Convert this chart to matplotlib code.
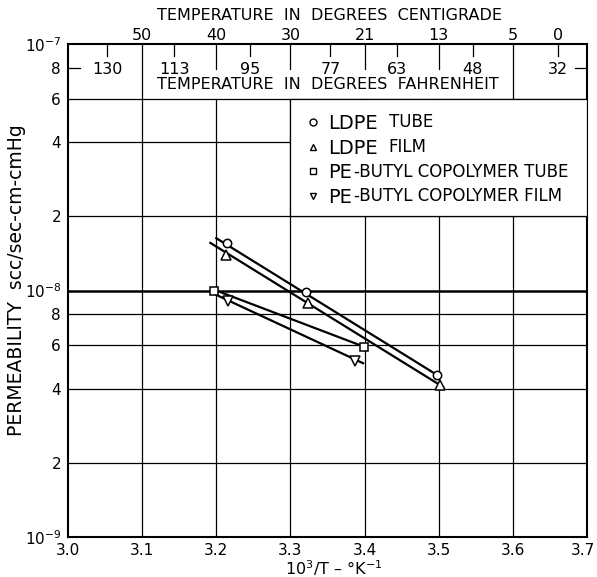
import matplotlib.pyplot as plt
import matplotlib.transforms as mtransforms
from matplotlib.lines import Line2D
from matplotlib.patches import Rectangle

# Measured points, x = 10^3/T (1/K), y = permeability (scc/sec-cm-cmHg)
ldpe_tube_x = [3.214, 3.321, 3.498]
ldpe_tube_y = [1.56e-8, 9.9e-9, 4.55e-9]
ldpe_film_x = [3.213, 3.324, 3.502]
ldpe_film_y = [1.39e-8, 8.9e-9, 4.15e-9]
pb_tube_x = [3.197, 3.399]
pb_tube_y = [1.0e-8, 5.9e-9]
pb_film_x = [3.216, 3.387]
pb_film_y = [9.1e-9, 5.2e-9]

# Straight lines drawn through each set (end points)
ldpe_tube_fit_x = [3.200, 3.500]
ldpe_tube_fit_y = [1.63e-8, 4.5e-9]
ldpe_film_fit_x = [3.192, 3.506]
ldpe_film_fit_y = [1.56e-8, 4.06e-9]
pb_tube_fit_x = [3.196, 3.397]
pb_tube_fit_y = [1.01e-8, 5.95e-9]
pb_film_fit_x = [3.200, 3.398]
pb_film_fit_y = [9.6e-9, 5.07e-9]

# Axis ticks
x_ticks = [3.0, 3.1, 3.2, 3.3, 3.4, 3.5, 3.6, 3.7]
y_ticks = [1e-9, 2e-9, 4e-9, 6e-9, 8e-9, 1e-8, 2e-8, 4e-8, 6e-8, 8e-8, 1e-7]
y_tick_labels = ['10$^{-9}$', '2', '4', '6', '8', '10$^{-8}$', '2', '4', '6', '8', '10$^{-7}$']

# Temperature scales
celsius_pos = [3.1, 3.2, 3.3, 3.4, 3.5, 3.6, 3.661]
celsius_labels = ['50', '40', '30', '21', '13', '5', '0']
fahrenheit = [130, 113, 95, 77, 63, 48, 32]

legend_big = ['LDPE', 'LDPE', 'PE', 'PE']
legend_small = ['TUBE', 'FILM', '-BUTYL COPOLYMER TUBE', '-BUTYL COPOLYMER FILM']
legend_markers = ['o', '^', 's', 'v']


def f_to_x(f):
    # degrees F -> 10^3/T with T in kelvin
    return 1000.0 / ((f - 32) / 1.8 + 273.15)


fig = plt.figure(figsize=(5.97, 5.77), dpi=100)
ax = fig.add_axes([68 / 597, 40 / 577, 519 / 597, 493 / 577])
ax.set_yscale('log')
ax.set_xlim(3.0, 3.7)
ax.set_ylim(1e-9, 1e-7)

# grid
for x in x_ticks[1:-1]:
    top = 1e-7 if x in (3.1, 3.6) else 6e-8
    ax.plot([x, x], [1e-9, top], color='black', lw=0.9, zorder=1)
for y in y_ticks[1:-2]:
    ax.axhline(y, color='black', lw=1.8 if y == 1e-8 else 0.9, zorder=1)
# inward ticks at 8e-8
ax.plot([3.0, 3.016], [8e-8, 8e-8], color='black', lw=0.9)
ax.plot([3.684, 3.7], [8e-8, 8e-8], color='black', lw=0.9)

# celsius ticks inside band, and top labels
for x, lab in zip(celsius_pos, celsius_labels):
    if 3.15 < x < 3.55:
        ax.plot([x, x], [1e-7, 7.92e-8], color='black', lw=0.9)
    ax.annotate(lab, xy=(x, 1), xycoords=('data', 'axes fraction'),
                xytext=(0, 1), textcoords='offset points',
                ha='center', va='bottom', fontsize=11.5)

# fahrenheit ticks and labels
for f in fahrenheit:
    xf = f_to_x(f)
    ax.plot([xf, xf], [1e-7, 8.94e-8], color='black', lw=0.9)
    ax.text(xf, 7.9e-8, str(f), ha='center', va='center', fontsize=11.5)
ax.text(3.35, 6.82e-8, 'TEMPERATURE  IN  DEGREES  FAHRENHEIT',
        ha='center', va='center', fontsize=11.5)
fig.text(330 / 597, 1 - 15 / 577, 'TEMPERATURE  IN  DEGREES  CENTIGRADE',
         ha='center', va='center', fontsize=11.5)

# data
mk = dict(color='none', markerfacecolor='white', markeredgecolor='black',
          markeredgewidth=1.1, zorder=4)
line_kw = dict(color='black', lw=1.6, zorder=2)
ax.plot(ldpe_tube_fit_x, ldpe_tube_fit_y, **line_kw)
ax.plot(ldpe_film_fit_x, ldpe_film_fit_y, **line_kw)
ax.plot(pb_tube_fit_x, pb_tube_fit_y, **line_kw)
ax.plot(pb_film_fit_x, pb_film_fit_y, **line_kw)
ax.plot(ldpe_tube_x, ldpe_tube_y, marker='o', ms=6, **mk)
ax.plot(ldpe_film_x, ldpe_film_y, marker='^', ms=7, **mk)
ax.plot(pb_tube_x, pb_tube_y, marker='s', ms=6, **mk)
ax.plot(pb_film_x, pb_film_y, marker='v', ms=7, **mk)

# legend box
ax.add_patch(Rectangle((3.3, 2e-8), 0.4, 4e-8, facecolor='white',
                       edgecolor='black', lw=0.9, zorder=3))
handles = [Line2D([], [], ls='none', marker=m, ms=5, markerfacecolor='white',
                  markeredgecolor='black', markeredgewidth=1.0)
           for m in legend_markers]
leg = ax.legend(handles, legend_big, loc='upper left', frameon=False,
                bbox_to_anchor=(3.301, 5.8e-8), bbox_transform=ax.transData,
                borderaxespad=0, borderpad=0.6, fontsize=14,
                handlelength=1.0, handletextpad=0.3, labelspacing=0.29)
leg.set_zorder(5)
for t, small in zip(leg.get_texts(), legend_small):
    ax.annotate(small, xy=(1, 0), xycoords=t, xytext=(8 if small[0] != '-' else 1.5, 1.2),
                textcoords='offset points', ha='left', va='bottom',
                fontsize=12, zorder=6)

# axes
ax.set_xticks(x_ticks)
ax.set_xticklabels([f'{x:.1f}' for x in x_ticks])
ax.set_yticks(y_ticks)
ax.set_yticklabels(y_tick_labels)
ax.minorticks_off()
ax.tick_params(axis='y', length=0, labelsize=11, pad=5)
ax.tick_params(axis='x', length=0, labelsize=11, pad=4)
last = ax.get_xticklabels()[-1]
last.set_transform(last.get_transform() + mtransforms.ScaledTranslation(-4 / 100, 0, fig.dpi_scale_trans))
for s in ax.spines.values():
    s.set_linewidth(1.5)
ax.set_xlabel('10$^3$/T – °K$^{-1}$', fontsize=11.5, va='center')
ax.xaxis.set_label_coords((334 - 68) / 519, -31 / 493)
ax.set_ylabel('PERMEABILITY  scc/sec-cm-cmHg', fontsize=13.5, va='center')
ax.yaxis.set_label_coords((17 - 68) / 519, (537 - 280) / 493)

fig.savefig('out.png', dpi=100)
